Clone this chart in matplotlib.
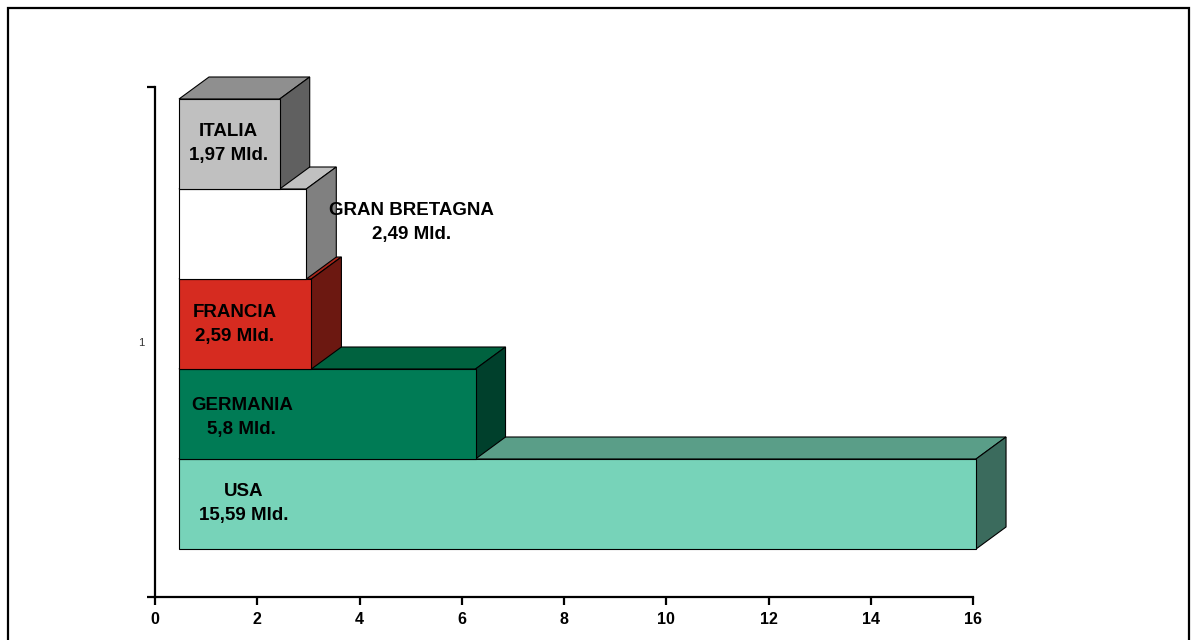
import matplotlib.pyplot as plt
from matplotlib.patches import Polygon, Rectangle

plt.rcParams['font.family'] = ['Liberation Sans', 'DejaVu Sans']

# values in billions, stacked bottom to top
countries = ["USA", "GERMANIA", "FRANCIA", "GRAN BRETAGNA", "ITALIA"]
values = [15.59, 5.8, 2.59, 2.49, 1.97]
value_labels = ["15,59 Mld.", "5,8 Mld.", "2,59 Mld.", "2,49 Mld.", "1,97 Mld."]
x_ticks = [0, 2, 4, 6, 8, 10, 12, 14, 16]

# front / top / side face colours for each box
front_col = ["#77d3b9", "#007b55", "#d62b20", "#ffffff", "#c0c0c0"]
top_col = ["#5a9e88", "#00623f", "#a8261b", "#c0c0c0", "#8f8f8f"]
side_col = ["#3b6b5d", "#00402c", "#6c1811", "#808080", "#606060"]

# label anchor (x in value units, y in category units)
label_pos = [(1.74, 0.683), (1.70, 0.852), (1.56, 1.035), (5.01, 1.234), (1.43, 1.39)]

W, H = 1191, 640
fig = plt.figure(figsize=(W / 100, H / 100), dpi=100)
ax = fig.add_axes([155 / W, (H - 597) / H, (973 - 155) / W, (597 - 87) / H])
ax.set_xlim(0, 16)
ax.set_ylim(0.5, 1.5)

# pixel -> data scale for the depth offset
px_x = 16 / (973 - 155)
px_y = 1.0 / (597 - 87)
dx, dy = 30 * px_x, 22 * px_y

x0 = 24 * px_x
base = 0.5 + (597 - 549) * px_y
bh = 90 * px_y

for i, v in enumerate(values):
    y0 = base + i * bh
    y1 = y0 + bh
    x1 = x0 + v
    top = Polygon([(x0, y1), (x1, y1), (x1 + dx, y1 + dy), (x0 + dx, y1 + dy)],
                  closed=True, facecolor=top_col[i], edgecolor="black", lw=0.8,
                  clip_on=False)
    side = Polygon([(x1, y0), (x1, y1), (x1 + dx, y1 + dy), (x1 + dx, y0 + dy)],
                   closed=True, facecolor=side_col[i], edgecolor="black", lw=0.8,
                   clip_on=False)
    front = Rectangle((x0, y0), v, bh, facecolor=front_col[i],
                      edgecolor="black", lw=0.8, clip_on=False)
    ax.add_patch(top)
    ax.add_patch(side)
    ax.add_patch(front)
    lx, ly = label_pos[i]
    ax.text(lx, ly, countries[i] + "\n" + value_labels[i], ha="center",
            va="center", fontsize=13.5, fontweight="bold", color="black",
            linespacing=1.55, zorder=5)

for s in ["top", "right"]:
    ax.spines[s].set_visible(False)
for s in ["left", "bottom"]:
    ax.spines[s].set_linewidth(1.6)

ax.set_xticks(x_ticks)
ax.set_xticklabels([str(t) for t in x_ticks], fontsize=11.5, fontweight="bold")
ax.tick_params(axis="x", length=6, width=1.6, pad=5)
ax.set_yticks([0.5, 1.5])
ax.set_yticklabels(["", ""])
ax.tick_params(axis="y", length=6, width=1.6)
ax.set_yticks([1.0], minor=True)
ax.set_yticklabels(["1"], minor=True, fontsize=8, color="#333333")
ax.tick_params(axis="y", which="minor", length=0, pad=8)

# outer frame around the whole chart
frame = Rectangle((8 / W, -0.1), (1189 - 8) / W, (H - 8) / H + 0.1,
                  transform=fig.transFigure, fill=False, edgecolor="black",
                  lw=1.6)
fig.patches.append(frame)

fig.savefig("out.png", dpi=100)
